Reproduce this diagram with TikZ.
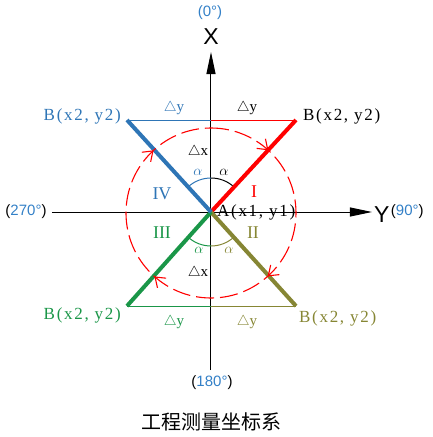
\documentclass[tikz,border=0pt]{standalone}
\usepackage{xcolor}
\usepackage{fontspec}
\usepackage{tikz}
\setmainfont{Liberation Serif}
\newfontfamily\ptfont[LetterSpace=10]{Liberation Serif}
\newfontfamily\axfont{Liberation Sans}
\newfontfamily\cjkfont{Noto Sans CJK SC}
\usetikzlibrary{arrows.meta, positioning, angles, decorations.markings}
\definecolor{qblue}{RGB}{46,117,182}
\definecolor{qgreen}{RGB}{26,150,72}
\definecolor{qolive}{RGB}{134,134,52}
\definecolor{degblue}{RGB}{51,128,199}
\tikzstyle{axis} = [line width=1pt, black, -{Triangle[length=22pt, width=9pt]}]
\tikzstyle{leg} = [line width=4pt]
\tikzstyle{base} = [line width=0.9pt]
\tikzstyle{ang} = [draw, line width=1pt, angle radius=34pt]
\tikzstyle{ptlabel} = [inner sep=0pt, font=\ptfont\fontsize{17}{20}\selectfont]
\tikzstyle{dlabel} = [inner sep=0pt, font=\fontsize{15}{18}\selectfont]
\tikzstyle{alabel} = [inner sep=0pt, font=\fontsize{14}{16}\selectfont]
\tikzstyle{quad} = [inner sep=0pt, font=\fontsize{18}{21}\selectfont]
\tikzstyle{axlabel} = [inner sep=0pt, font=\axfont\fontsize{23}{26}\selectfont]
\tikzstyle{deg} = [inner sep=0pt, font=\axfont\fontsize{15}{17}\selectfont, degblue]
\tikzstyle{cw} = [red, line width=1.1pt, dash pattern=on 18pt off 6pt,
  postaction={decorate, decoration={markings,
    mark=at position 0.118 with {\arrow{Straight Barb[length=9pt, width=13pt]}},
    mark=at position 0.384 with {\arrow{Straight Barb[length=9pt, width=13pt]}},
    mark=at position 0.616 with {\arrow{Straight Barb[length=9pt, width=13pt]}},
    mark=at position 0.882 with {\arrow{Straight Barb[length=9pt, width=13pt]}}}}]

\begin{document}
\begin{tikzpicture}[x=1pt, y=1pt]

		\useasboundingbox (-211,-225) rectangle (221,212);

		% Points
		\coordinate (A) at (0,0);
		\coordinate (B1) at (85,92);
		\coordinate (B2) at (85,-94);
		\coordinate (B3) at (-84,-94);
		\coordinate (B4) at (-84,92);
		\coordinate (Xtop) at (0,160);
		\coordinate (Xbot) at (0,-158);
		\coordinate (Yright) at (161,0);
		\coordinate (Yleft) at (-159,0);
		\coordinate (C) at (0,-1);

		% Draw the axes
		\draw [axis] (Xbot) -- (Xtop);
		\draw [axis] (Yleft) -- (Yright);

		% Draw the bases
		\draw [base, qblue] (B4) -- (B4 -| A);
		\draw [base, red] (B1) -- (B1 -| A);
		\draw [base, qgreen] (B3) -- (B3 -| A);
		\draw [base, qolive] (B2) -- (B2 -| A);

		% Draw the angles
		\pic [ang, qblue] {angle = Xtop--A--B4};
		\pic [ang, black] {angle = B1--A--Xtop};
		\pic [ang, qgreen] {angle = B3--A--Xbot};
		\pic [ang, qolive] {angle = Xbot--A--B2};

		% Draw the legs
		\draw [leg, red] (A) -- (B1);
		\draw [leg, qolive] (A) -- (B2);
		\draw [leg, qgreen] (A) -- (B3);
		\draw [leg, qblue] (A) -- (B4);

		% Draw the circle
		\draw [cw] (C) ++(90:85) arc [start angle=90, end angle=-270, radius=85];

		% Draw the labels
		\node (lB1) [ptlabel, black, right=7pt of B1, yshift=4pt] {B(x2, y2)};
		\node (lB2) [ptlabel, qolive, right=3pt of B2, yshift=-12pt] {B(x2, y2)};
		\node (lB3) [ptlabel, qgreen, left=6pt of B3, yshift=-9pt] {B(x2, y2)};
		\node (lB4) [ptlabel, qblue, left=6pt of B4, yshift=4pt] {B(x2, y2)};
		\node (lA) [ptlabel, black, right=6pt of A, yshift=0pt] {A(x1, y1)};

		\node (dy1) [dlabel, black] at (36,104) {$\triangle$y};
		\node (dy2) [dlabel, qolive] at (36,-110) {$\triangle$y};
		\node (dy3) [dlabel, qgreen] at (-37,-110) {$\triangle$y};
		\node (dy4) [dlabel, qblue] at (-37,104) {$\triangle$y};
		\node (dxtop) [dlabel, black] at (-13,60) {$\triangle$x};
		\node (dxbot) [dlabel, black] at (-13,-61) {$\triangle$x};

		\node (a1) [alabel, black] at (13,40) {$\alpha$};
		\node (a2) [alabel, qolive] at (18,-38) {$\alpha$};
		\node (a3) [alabel, qgreen] at (-12,-38) {$\alpha$};
		\node (a4) [alabel, qblue] at (-13,40) {$\alpha$};

		\node (q1) [quad, red] at (43,20) {I};
		\node (q2) [quad, qolive] at (42,-21) {II};
		\node (q3) [quad, qgreen] at (-49,-21) {III};
		\node (q4) [quad, qblue] at (-49,18) {IV};

		\node (xlab) [axlabel, above=7pt of Xtop] {X};
		\node (ylab) [axlabel, right=2pt of Yright, yshift=-3pt] {Y};
		\node (d0) [deg] at (-1,199) {(0°)};
		\node (d90) [deg, right=1pt of ylab, yshift=3pt] {\color{black}(\color{degblue}90°\color{black})};
		\node (d180) [deg] at (1,-171) {\color{black}(\color{degblue}180°\color{black})};
		\node (d270) [deg] at (-185,0) {\color{black}(\color{degblue}270°\color{black})};

		\node (title) at (1,-210) {\cjkfont\fontsize{20}{24}\selectfont 工程测量坐标系};

\end{tikzpicture}
\end{document}
